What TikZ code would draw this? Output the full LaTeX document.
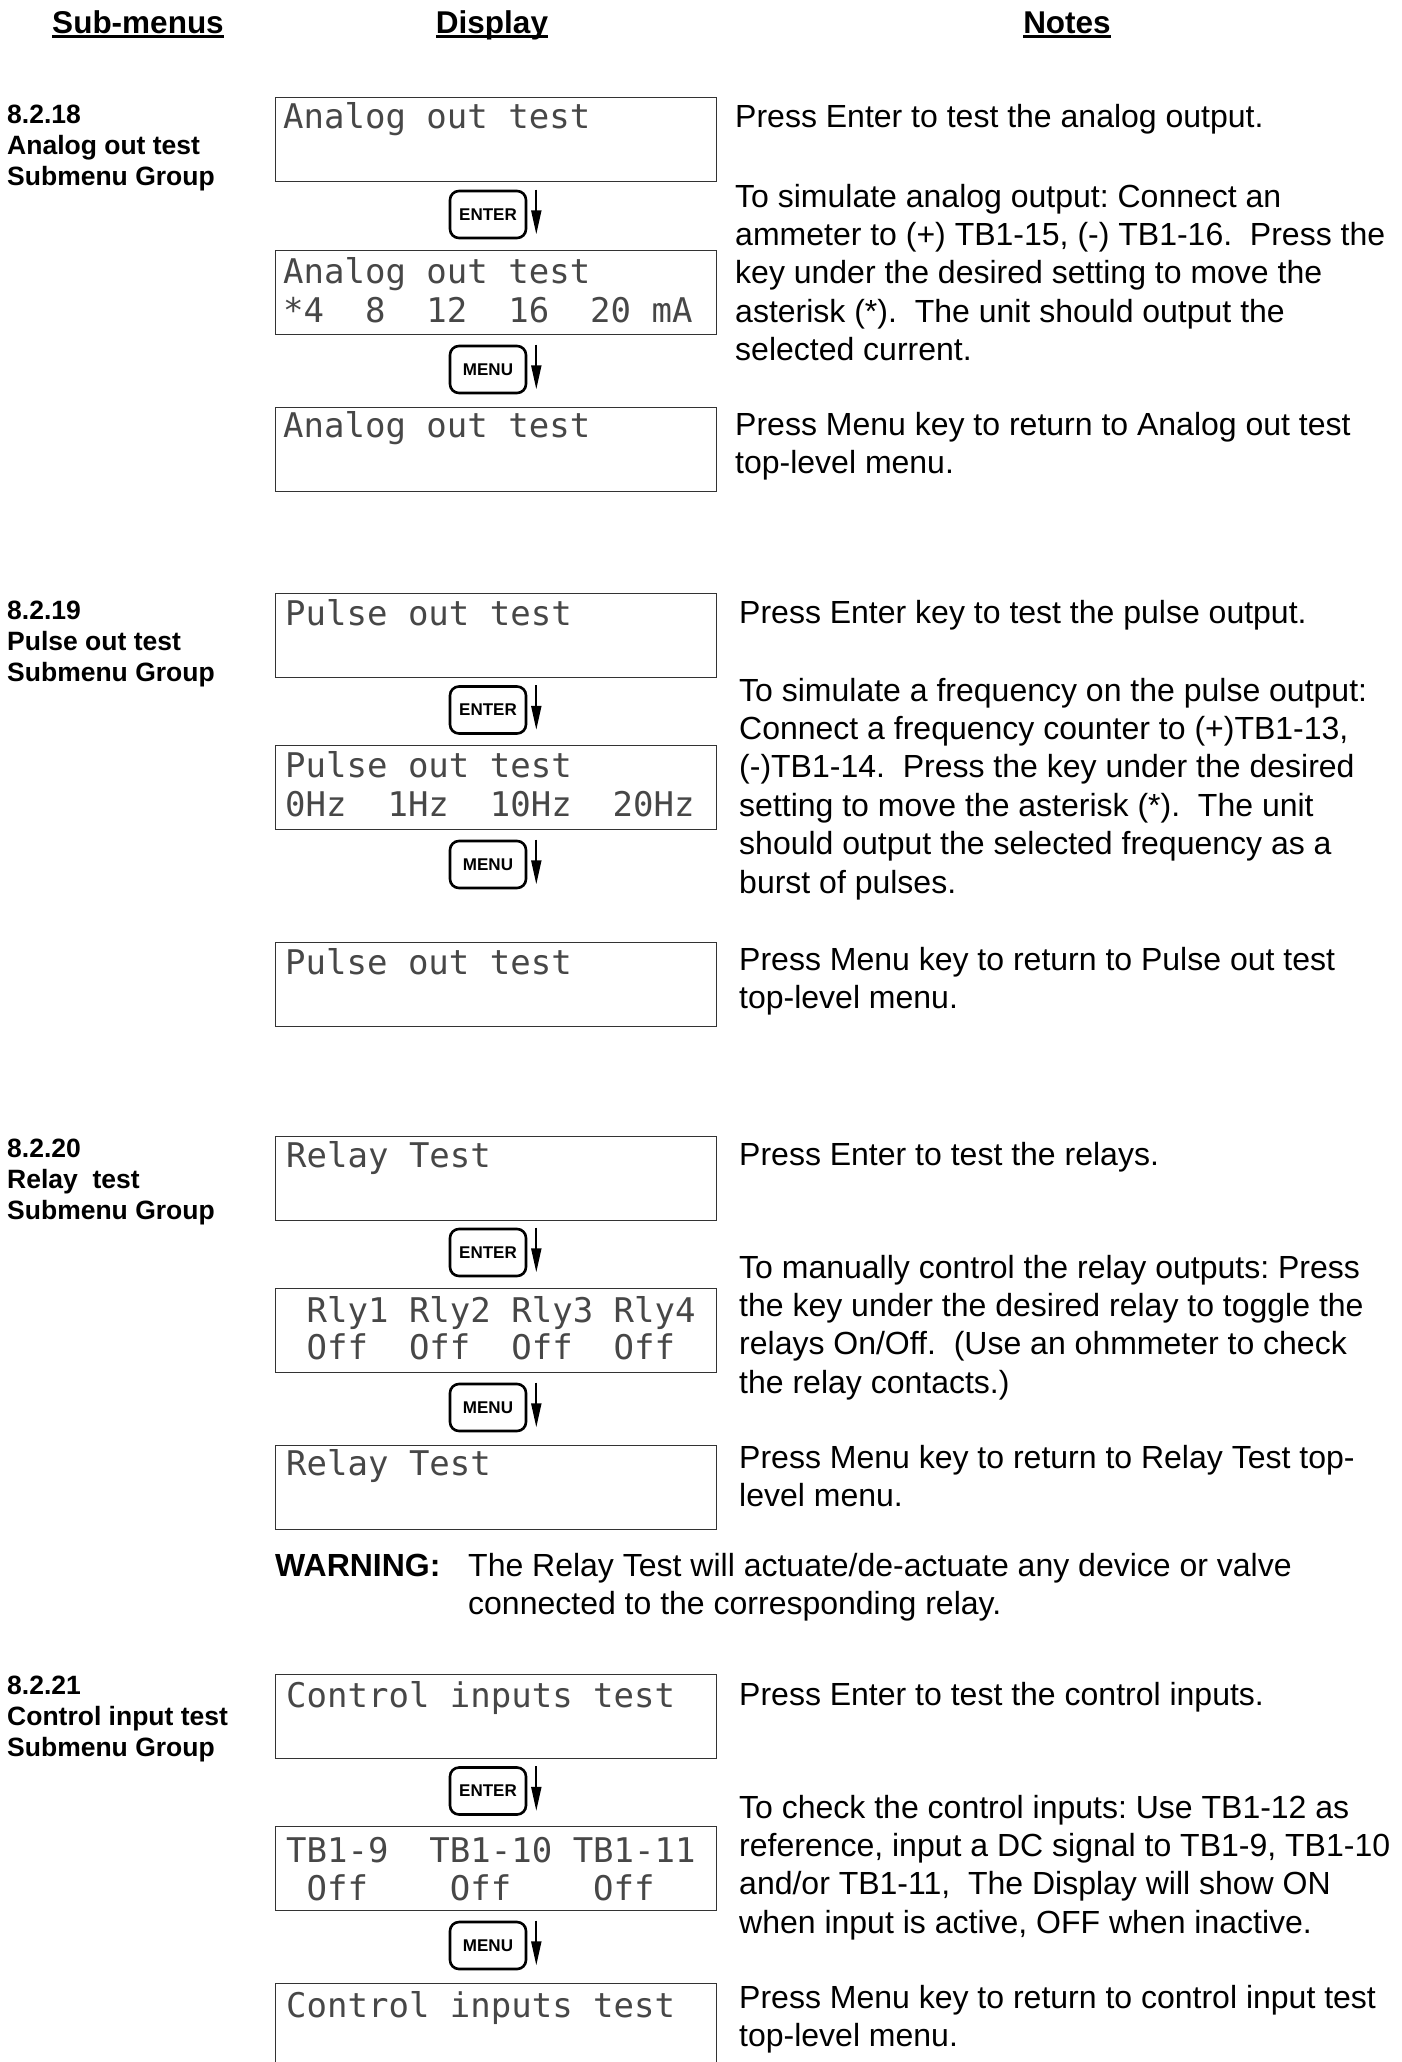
\documentclass[tikz,border=0pt]{standalone}
\usepackage{fontspec}
\setmainfont{Liberation Sans}
\newfontfamily\lcdfont{DejaVu Sans Mono}
\usetikzlibrary{arrows.meta}
\newcommand\ml[1]{\begin{tabular}[t]{@{}l@{}}#1\end{tabular}}
\tikzset{
 lcd/.style={draw=black!80, line width=1.3pt, minimum width=441pt, minimum height=84pt, anchor=north west, inner sep=0pt},
 lcdtxt/.style={anchor=base west, inner sep=0pt, font=\lcdfont\fontsize{34}{39}\selectfont, text=black!72},
 keybox/.style={draw, line width=2.6pt, rounded corners=9pt, minimum width=76pt, minimum height=47pt, inner sep=0pt, font=\bfseries\fontsize{17}{20}\selectfont},
 keyarrow/.style={line width=2pt, -{Triangle[length=24pt,width=10pt]}},
 note/.style={anchor=base west, inner sep=0pt, font=\fontsize{32}{38.4}\selectfont},
 sub/.style={anchor=base west, inner sep=0pt, font=\bfseries\fontsize{26.5}{31}\selectfont},
 head/.style={anchor=base, inner sep=0pt, font=\bfseries\fontsize{31.5}{36}\selectfont},
 uline/.style={line width=2.3pt},
}
\begin{document}
\frenchspacing
\begin{tikzpicture}[x=1pt,y=-1pt]
\useasboundingbox (0,0) rectangle (1402,2062);
% headers
\node[head] (h1) at (138,33) {Sub-menus};
\node[head] (h2) at (492,33) {Display};
\node[head] (h3) at (1067,33) {Notes};
\foreach \h in {h1,h2,h3}{\draw[uline] ([yshift=-3.5pt]\h.base west) -- ([yshift=-3.5pt]\h.base east);}

% ---------------- Section 1 ----------------
\node[sub] (s1) at (7,123) {\ml{8.2.18\\Analog out test\\Submenu Group}};
\node[lcd] (a1) at (275,97) {};
\node[lcd] (a2) at (275,250) {};
\node[lcd] (a3) at (275,407) {};
\node[lcdtxt] (a1t) at (283,128) {Analog~out~test};
\node[lcdtxt] (a2t) at (283,283) {Analog~out~test};
\node[lcdtxt] (a2u) at (283,322) {*4~~8~~12~~16~~20~mA};
\node[lcdtxt] (a3t) at (283,437) {Analog~out~test};
\node[keybox] (ke1) at (488,214.5) {ENTER};
\node[keybox] (km1) at (488,369.5) {MENU};
\draw[keyarrow] ([xshift=9pt]ke1.north east) -- ([xshift=9pt,yshift=5pt]ke1.south east);
\draw[keyarrow] ([xshift=9pt]km1.north east) -- ([xshift=9pt,yshift=5pt]km1.south east);
\node[note] (n11) at (735,127) {Press Enter to test the analog output.};
\node[note] (n12) at (735,207) {\ml{To simulate analog output: Connect an\\ammeter to (+) TB1-15, (-) TB1-16.~ Press the\\key under the desired setting to move the\\asterisk (*).~ The unit should output the\\selected current.}};
\node[note] (n13) at (735,435) {\ml{Press Menu key to return to Analog out test\\top-level menu.}};

% ---------------- Section 2 ----------------
\node[sub] (s2) at (7,619) {\ml{8.2.19\\Pulse out test\\Submenu Group}};
\node[lcd] (b1) at (275,593) {};
\node[lcd] (b2) at (275,745) {};
\node[lcd] (b3) at (275,942) {};
\node[lcdtxt] (b1t) at (285,625) {Pulse~out~test};
\node[lcdtxt] (b2t) at (285,777) {Pulse~out~test};
\node[lcdtxt] (b2u) at (285,816) {0Hz~~1Hz~~10Hz~~20Hz};
\node[lcdtxt] (b3t) at (285,974) {Pulse~out~test};
\node[keybox] (ke2) at (488,710) {ENTER};
\node[keybox] (km2) at (488,864.5) {MENU};
\draw[keyarrow] ([xshift=9pt]ke2.north east) -- ([xshift=9pt,yshift=5pt]ke2.south east);
\draw[keyarrow] ([xshift=9pt]km2.north east) -- ([xshift=9pt,yshift=5pt]km2.south east);
\node[note] (n21) at (739,623) {Press Enter key to test the pulse output.};
\node[note] (n22) at (739,701) {\ml{To simulate a frequency on the pulse output:\\Connect a frequency counter to (+)TB1-13,\\(-)TB1-14.~ Press the key under the desired\\setting to move the asterisk (*).~ The unit\\should output the selected frequency as a\\burst of pulses.}};
\node[note] (n23) at (739,970) {\ml{Press Menu key to return to Pulse out test\\top-level menu.}};

% ---------------- Section 3 ----------------
\node[sub] (s3) at (7,1157) {\ml{8.2.20\\Relay~ test\\Submenu Group}};
\node[lcd] (c1) at (275,1136) {};
\node[lcd] (c2) at (275,1288) {};
\node[lcd] (c3) at (275,1445) {};
\node[lcdtxt] (c1t) at (286,1167) {Relay~Test};
\node[lcdtxt] (c2t) at (286,1322) {~Rly1~Rly2~Rly3~Rly4};
\node[lcdtxt] (c2u) at (286,1359) {~Off~~Off~~Off~~Off};
\node[lcdtxt] (c3t) at (286,1475) {Relay~Test};
\node[keybox] (ke3) at (488,1252.5) {ENTER};
\node[keybox] (km3) at (488,1407.5) {MENU};
\draw[keyarrow] ([xshift=9pt]ke3.north east) -- ([xshift=9pt,yshift=5pt]ke3.south east);
\draw[keyarrow] ([xshift=9pt]km3.north east) -- ([xshift=9pt,yshift=5pt]km3.south east);
\node[note] (n31) at (739,1165) {Press Enter to test the relays.};
\node[note] (n32) at (739,1278) {\ml{To manually control the relay outputs: Press\\the key under the desired relay to toggle the\\relays On/Off.~ (Use an ohmmeter to check\\the relay contacts.)}};
\node[note] (n33) at (739,1468) {\ml{Press Menu key to return to Relay Test top-\\level menu.}};
\node[note,font=\bfseries\fontsize{32}{38.4}\selectfont] (w1) at (275,1576) {WARNING:};
\node[note] (w2) at (468,1576) {\ml{The Relay Test will actuate/de-actuate any device or valve\\connected to the corresponding relay.}};

% ---------------- Section 4 ----------------
\node[sub] (s4) at (7,1694) {\ml{8.2.21\\Control input test\\Submenu Group}};
\node[lcd] (d1) at (275,1674) {};
\node[lcd] (d2) at (275,1826) {};
\node[lcd,minimum height=95pt] (d3) at (275,1983) {};
\node[lcdtxt] (d1t) at (286,1707) {Control~inputs~test};
\node[lcdtxt] (d2t) at (286,1862) {TB1-9~~TB1-10~TB1-11};
\node[lcdtxt] (d2u) at (286,1900) {~Off~~~~Off~~~~Off};
\node[lcdtxt] (d3t) at (286,2017) {Control~inputs~test};
\node[keybox] (ke4) at (488,1791) {ENTER};
\node[keybox] (km4) at (488,1945.5) {MENU};
\draw[keyarrow] ([xshift=9pt]ke4.north east) -- ([xshift=9pt,yshift=5pt]ke4.south east);
\draw[keyarrow] ([xshift=9pt]km4.north east) -- ([xshift=9pt,yshift=5pt]km4.south east);
\node[note] (n41) at (739,1705) {Press Enter to test the control inputs.};
\node[note] (n42) at (739,1818) {\ml{To check the control inputs: Use TB1-12 as\\reference, input a DC signal to TB1-9, TB1-10\\and/or TB1-11,~ The Display will show ON\\when input is active, OFF when inactive.}};
\node[note] (n43) at (739,2008) {\ml{Press Menu key to return to control input test\\top-level menu.}};
\end{tikzpicture}
\end{document}
